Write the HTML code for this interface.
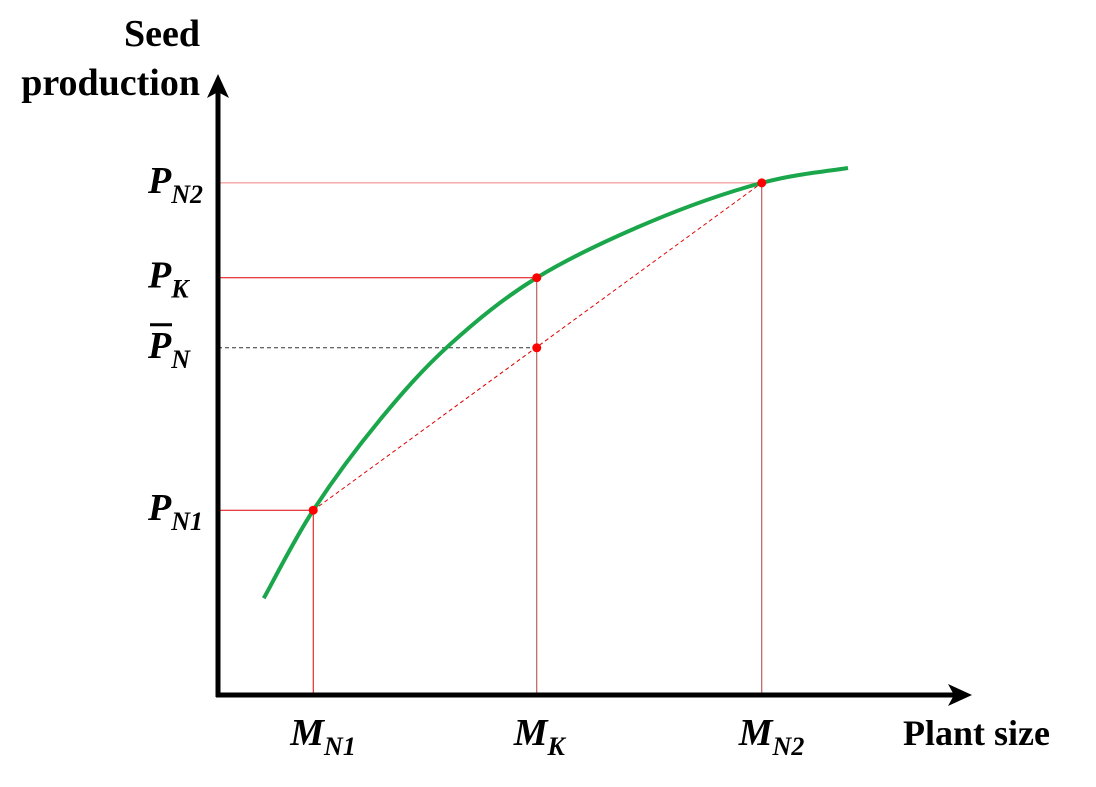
<!DOCTYPE html>
<html><head><meta charset="utf-8"><style>
html,body{margin:0;padding:0;background:#fff;}
svg text{font-family:"Liberation Serif",serif;font-weight:bold;}
</style></head><body>
<svg width="1096" height="782" viewBox="0 0 1096 782">
<g id="marks"></g>
<g id="axes">
 <line x1="218" y1="697" x2="218" y2="90" stroke="#000" stroke-width="5"/>
 <polygon points="218,74 207,98 218,92 229,98" fill="#000"/>
 <line x1="216" y1="695" x2="955" y2="695" stroke="#000" stroke-width="5"/>
 <polygon points="972,695 948,684 954,695 948,706" fill="#000"/>
</g>
<text x="200" y="46" font-size="38" text-anchor="end">Seed</text>
<text x="200" y="95" font-size="38" text-anchor="end">production</text>
<text x="1050" y="745" font-size="36" text-anchor="end">Plant size</text>
<g id="labels" font-style="italic"></g>
</svg>
<script>
const curveX=[6.1,12.7,21.6,30.9,42.5,57.6,72.5,84.0];
const curveY=[15.6,29.8,44.4,56.5,67.3,76.3,82.6,85.0];
const pointNames=["N1","K","N2"];
const pointX=[12.7,42.5,72.5];
const pointY=[29.8,67.3,82.6];
const meanY=56.0;
const xs=v=>218+v*7.5, ys=v=>695-v*6.2;
const NS="http://www.w3.org/2000/svg";
const g=document.getElementById('marks'), lg=document.getElementById('labels');
function mk(tag,attrs,parent){const e=document.createElementNS(NS,tag);for(const k in attrs)e.setAttribute(k,attrs[k]);(parent||g).appendChild(e);return e;}
pointX.forEach((px,i)=>{
 const X=xs(px),Y=ys(pointY[i]);
 const h=mk('line',{x1:218,y1:Y,x2:X,y2:Y,stroke:i==2?'#f08080':'#e00000','stroke-width':1});
 
 
 const v=mk('line',{x1:X,y1:Y,x2:X,y2:695,stroke:i==0?'#e00000':'#b04040','stroke-width':1});
 
 
});
const mY=ys(meanY), mX=xs(pointX[1]);
const ml=mk('line',{x1:218,y1:mY,x2:mX,y2:mY,stroke:'#333','stroke-width':1,'stroke-dasharray':'4,3'});


const ch=mk('line',{x1:xs(pointX[0]),y1:ys(pointY[0]),x2:xs(pointX[2]),y2:ys(pointY[2]),stroke:'#e00000','stroke-width':1,'stroke-dasharray':'4,3'});


const P=curveX.map((x,i)=>[xs(x),ys(curveY[i])]);
let d='M'+P[0].join(',');
for(let i=0;i<P.length-1;i++){const p0=P[i-1]||P[i],p1=P[i],p2=P[i+1],p3=P[i+2]||p2;
 d+=` C${p1[0]+(p2[0]-p0[0])/6},${p1[1]+(p2[1]-p0[1])/6} ${p2[0]-(p3[0]-p1[0])/6},${p2[1]-(p3[1]-p1[1])/6} ${p2[0]},${p2[1]}`;}
const cv=mk('path',{d:d,fill:'none',stroke:'#1aa64a','stroke-width':4});


pointX.forEach((px,i)=>{const c=mk('circle',{cx:xs(px),cy:ys(pointY[i]),r:4.5,fill:'#ff0000'});
 
 });
const mc=mk('circle',{cx:mX,cy:mY,r:4.5,fill:'#ff0000'});


function lab(x,y,sub,name,bar){
 const t=mk('text',{x:x,y:y,'font-size':38},lg);
 
 
 const a=document.createElementNS(NS,'tspan');a.textContent=sub[0];t.appendChild(a);
 const b=document.createElementNS(NS,'tspan');b.setAttribute('font-size','26');b.setAttribute('dy','10');b.textContent=sub[1];t.appendChild(b);
 if(bar){const l=mk('line',{x1:x+2,y1:y-33,x2:x+24,y2:y-33,stroke:'#000','stroke-width':3},lg);
  
  }
}
pointNames.forEach((n,i)=>lab(148,ys(pointY[i])+10,['P',n],'y-label-'+n));
lab(148,mY+10,['P','N'],'y-label-mean',true);
pointNames.forEach((n,i)=>lab(xs(pointX[i])-23,745,['M',n],'x-label-'+n));
</script>
</body></html>
